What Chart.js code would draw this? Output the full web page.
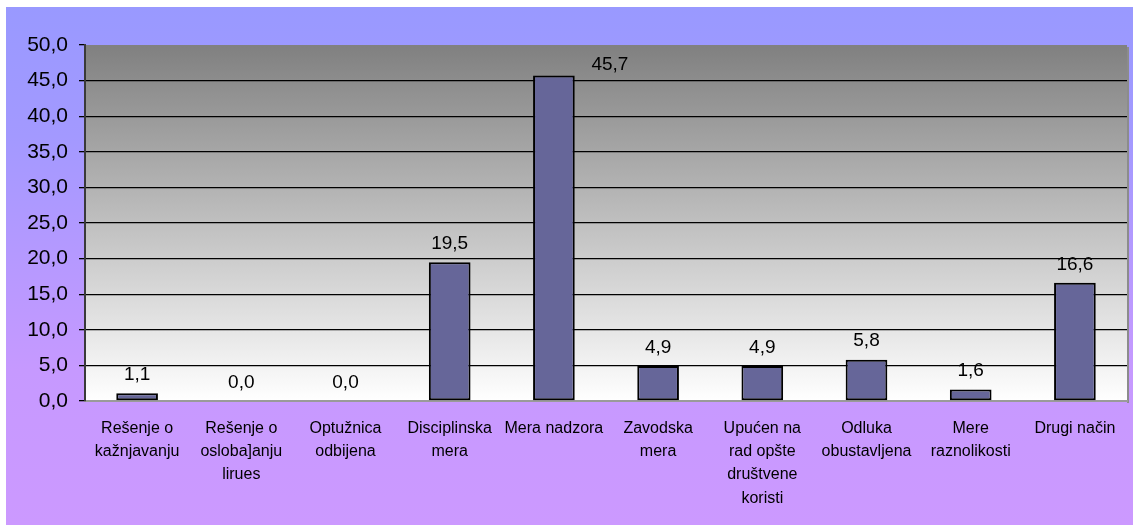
<!DOCTYPE html>
<html>
<head>
<meta charset="utf-8">
<script src="https://cdn.jsdelivr.net/npm/chart.js@4/dist/chart.umd.min.js"></script>
<style>
  html, body { margin: 0; padding: 0; background: #fff; }
  #box {
    position: absolute; left: 6px; top: 7px; width: 1127px; height: 518px;
    background: linear-gradient(to bottom, #9999ff 0%, #a399ff 25%, #c699ff 70%, #cc99ff 100%);
  }
</style>
</head>
<body>
<div id="box"><canvas id="chart" width="1127" height="518"></canvas></div>
<script>
// categories and values (percent)
const categories = [
    ['Rešenje o', 'kažnjavanju'],
    ['Rešenje o', 'osloba]anju', 'lirues'],
    ['Optužnica', 'odbijena'],
    ['Disciplinska', 'mera'],
    'Mera nadzora',
    ['Zavodska', 'mera'],
    ['Upućen na', 'rad opšte', 'društvene', 'koristi'],
    ['Odluka', 'obustavljena'],
    ['Mere', 'raznolikosti'],
    'Drugi način'
];
const values = [1.1, 0.0, 0.0, 19.5, 45.7, 4.9, 4.9, 5.8, 1.6, 16.6];
const yTicks = [0, 5, 10, 15, 20, 25, 30, 35, 40, 45, 50];

const fmt = v => v.toFixed(1).replace('.', ',');
const FONT = '"Liberation Sans", Arial, sans-serif';

// plot area background + frame
const plotBg = {
    id: 'plotBg',
    beforeDraw(chart) {
        const { ctx, chartArea: a } = chart;
        const g = ctx.createLinearGradient(0, a.top, 0, a.bottom);
        g.addColorStop(0, '#808080');
        g.addColorStop(1, '#ffffff');
        ctx.save();
        ctx.fillStyle = g;
        ctx.fillRect(a.left, a.top, a.right - a.left, a.bottom - a.top);
        ctx.fillStyle = '#8c8c8c';
        ctx.fillRect(a.right, a.top + 2, 2, a.bottom - a.top);
        ctx.restore();
    }
};

// value labels above bars
const barLabels = {
    id: 'barLabels',
    afterDatasetsDraw(chart, args, opts) {
        const { ctx } = chart;
        const meta = chart.getDatasetMeta(0);
        ctx.save();
        ctx.font = '19px ' + FONT;
        ctx.fillStyle = '#000';
        ctx.textAlign = 'center';
        ctx.textBaseline = 'bottom';
        meta.data.forEach((bar, i) => {
            const nudge = (opts.nudge && opts.nudge[i]) || [0, 0];
            ctx.fillText(fmt(values[i]), bar.x + nudge[0], bar.y - 9 + nudge[1]);
        });
        ctx.restore();
    }
};

new Chart(document.getElementById('chart'), {
    type: 'bar',
    data: {
        labels: categories,
        datasets: [{
            data: values,
            backgroundColor: '#666699',
            borderColor: '#000000',
            borderWidth: 2,
            borderSkipped: false,
            categoryPercentage: 1,
            barPercentage: 0.4
        }]
    },
    options: {
        responsive: false,
        animation: false,
        layout: { padding: { left: 0, top: 38, right: 6, bottom: 0 } },
        plugins: {
            legend: { display: false },
            tooltip: { enabled: false },
            barLabels: { nudge: { 4: [56, 8] } }
        },
        scales: {
            x: {
                afterFit: s => { s.height = 124; },
                grid: { display: false },
                border: { color: '#9a9a9a', width: 2 },
                ticks: {
                    color: '#000',
                    font: { family: FONT, size: 16, lineHeight: 1.45 },
                    padding: 8,
                    maxRotation: 0,
                    autoSkip: false
                }
            },
            y: {
                min: 0,
                max: 50,
                afterFit: s => { s.width = 79; },
                afterBuildTicks: s => { s.ticks = yTicks.map(v => ({ value: v })); },
                border: { color: '#3a3a3a', width: 2 },
                grid: {
                    color: c => (c.tick.value === 0 || c.tick.value === 50) ? 'rgba(0,0,0,0)' : '#000',
                    tickColor: '#000',
                    tickLength: 6,
                    lineWidth: 1.3
                },
                ticks: {
                    color: '#000',
                    font: { family: FONT, size: 21 },
                    padding: 11,
                    callback: v => fmt(v)
                }
            }
        }
    },
    plugins: [plotBg, barLabels]
});
</script>
</body>
</html>
